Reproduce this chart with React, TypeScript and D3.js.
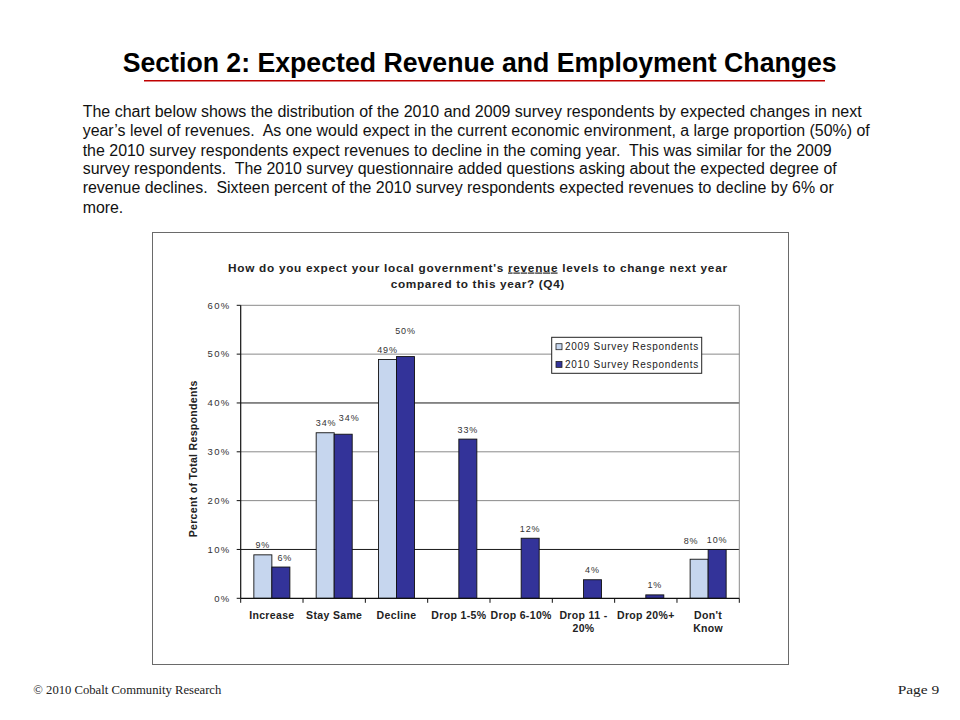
import React from "react";
import * as d3 from "d3";

const categories: string[][] = [
  ["Increase"],
  ["Stay Same"],
  ["Decline"],
  ["Drop 1-5%"],
  ["Drop 6-10%"],
  ["Drop 11 -", "20%"],
  ["Drop 20%+"],
  ["Don't", "Know"],
];
const seriesNames = ["2009 Survey Respondents", "2010 Survey Respondents"];
const values2009: (number | null)[] = [8.9, 33.9, 48.9, null, null, null, null, 8.0];
const values2010: (number | null)[] = [6.4, 33.6, 49.5, 32.6, 12.3, 3.8, 0.7, 10.0];
const labels2009: (string | null)[] = ["9%", "34%", "49%", null, null, null, null, "8%"];
const labels2010: (string | null)[] = ["6%", "34%", "50%", "33%", "12%", "4%", "1%", "10%"];
const yTicks = [0, 10, 20, 30, 40, 50, 60];

const headingText = "Section 2: Expected Revenue and Employment Changes";
const paragraphLines = [
  "The chart below shows the distribution of the 2010 and 2009 survey respondents by expected changes in next",
  "year\u2019s level of revenues.  As one would expect in the current economic environment, a large proportion (50%) of",
  "the 2010 survey respondents expect revenues to decline in the coming year.  This was similar for the 2009",
  "survey respondents.  The 2010 survey questionnaire added questions asking about the expected degree of",
  "revenue declines.  Sixteen percent of the 2010 survey respondents expected revenues to decline by 6% or",
  "more.",
];
const paragraphWidths = [779, 787, 749, 754, 751, 40.6];
const paragraphBaselines = [117.3, 136.3, 155.5, 174.3, 193.3, 213.3];
const chartTitle1a = "How do you expect your local government's ";
const chartTitle1b = "revenue";
const chartTitle1c = " levels to change next year";
const chartTitle2 = "compared to this year? (Q4)";
const yAxisTitle = "Percent of Total Respondents";
const footerLeft = "\u00A9 2010 Cobalt Community Research";
const footerRight = "Page 9";

const colors = ["#C6D6EE", "#333399"];
const chartFont = "'Liberation Sans', Arial, sans-serif";
const narrowFont = "'Liberation Sans Narrow', 'Arial Narrow', 'Liberation Sans', Arial, sans-serif";

export default function App() {
  const plotLeft = 240.7;
  const plotRight = 739.3;
  const plotTop = 305.3;
  const plotBottom = 598.3;

  const keys = categories.map((c) => c.join(" "));
  const x0 = d3.scaleBand<string>().domain(keys).range([plotLeft, plotRight]).paddingInner(0).paddingOuter(0);
  const x1 = d3.scaleBand<string>().domain(["2009", "2010"]).range([0, x0.bandwidth()]).paddingInner(0).paddingOuter(0.73);
  const y = d3.scaleLinear().domain([0, 60]).range([plotBottom, plotTop]);

  const series = [
    { key: "2009", values: values2009, labels: labels2009, color: colors[0] },
    { key: "2010", values: values2010, labels: labels2010, color: colors[1] },
  ];

  // data label placement with simple collision avoidance
  type Lab = { x: number; y: number; text: string };
  const dataLabels: Lab[] = [];
  keys.forEach((k, i) => {
    const a = values2009[i];
    const b = values2010[i];
    const la = labels2009[i];
    const lb = labels2010[i];
    const wA = la ? la.length * 6.2 : 0;
    const wB = lb ? lb.length * 6.2 : 0;
    const xa = (x0(k) as number) + (x1("2009") as number) + x1.bandwidth() / 2;
    const xb = (x0(k) as number) + (x1("2010") as number) + x1.bandwidth() / 2;
    let ya = a != null ? y(a) - 6.5 : 0;
    let yb = b != null ? y(b) - 6.5 : 0;
    let dxa = 0;
    let dxb = 0;
    if (a != null && b != null && la && lb) {
      const overlapX = xa + wA / 2 - (xb - wB / 2);
      const overlapY = Math.abs(ya - yb) < 10;
      if (overlapX > 0 && overlapY) {
        if (b > a) {
          yb = Math.min(ya, yb) - 16;
        } else {
          dxa = 1;
          dxb = 6;
          yb = ya - 5;
        }
      } else if (a < b) {
        dxa = -8;
        if (b - a < 2.2) ya = yb + 1;
      } else {
        dxb = 4;
      }
    }
    if (a != null && la) dataLabels.push({ x: xa + dxa, y: ya, text: la });
    if (b != null && lb) dataLabels.push({ x: xb + dxb, y: yb, text: lb });
  });

  const tickXs = keys.map((k) => x0(k) as number).concat([plotRight]);

  return (
    <svg
      width={960}
      height={720}
      viewBox="0 0 960 720"
      style={{ position: "absolute", left: 0, top: 0, background: "#fff" }}
    >
      <rect x={0} y={0} width={960} height={720} fill="#fff" />

      {/* Heading */}
      <text
        x={122.7}
        y={71.7}
        fontFamily={narrowFont}
        fontWeight="bold"
        fontSize={27.5}
        textLength={714}
        lengthAdjust="spacingAndGlyphs"
        fill="#000"
      >
        {headingText}
      </text>
      <line x1={144} x2={825} y1={80.7} y2={80.7} stroke="#C00000" strokeWidth={1.4} />

      {/* Paragraph */}
      {paragraphLines.map((line, i) => (
        <text
          key={i}
          x={82.7}
          y={paragraphBaselines[i]}
          fontFamily={narrowFont}
          fontSize={16}
          textLength={paragraphWidths[i]}
          lengthAdjust="spacingAndGlyphs"
          fill="#111"
          style={{ whiteSpace: "pre" }}
        >
          {line}
        </text>
      ))}

      {/* Chart box */}
      <rect x={152.5} y={232.5} width={636} height={432} fill="#fff" stroke="#6a6a6a" strokeWidth={1} />

      {/* Chart title */}
      <text
        x={228}
        y={271.5}
        fontFamily={chartFont}
        fontWeight="bold"
        fontSize={11.8}
        textLength={499}
        lengthAdjust="spacing"
        fill="#222"
        style={{ whiteSpace: "pre" }}
      >
        <tspan>{chartTitle1a}</tspan>
        <tspan style={{ textDecoration: "underline" }}>{chartTitle1b}</tspan>
        <tspan>{chartTitle1c}</tspan>
      </text>
      <text
        x={390.7}
        y={287.5}
        fontFamily={chartFont}
        fontWeight="bold"
        fontSize={11.8}
        textLength={173.6}
        lengthAdjust="spacing"
        fill="#222"
      >
        {chartTitle2}
      </text>

      {/* Gridlines */}
      {yTicks.slice(1).map((t) => (
        <line
          key={t}
          x1={plotLeft}
          x2={plotRight}
          y1={y(t)}
          y2={y(t)}
          stroke={t % 30 === 10 ? "#1a1a1a" : "#8a8a8a"}
          strokeWidth={1}
        />
      ))}
      <line x1={plotRight} x2={plotRight} y1={plotTop} y2={plotBottom} stroke="#8a8a8a" strokeWidth={1} />

      {/* Bars */}
      {series.map((s) =>
        keys.map((k, i) => {
          const v = s.values[i];
          if (v == null) return null;
          const bx = (x0(k) as number) + (x1(s.key) as number);
          return (
            <rect
              key={s.key + k}
              x={bx}
              y={y(v)}
              width={x1.bandwidth()}
              height={y(0) - y(v)}
              fill={s.color}
              stroke="#111"
              strokeWidth={0.9}
            />
          );
        })
      )}

      {/* Axes */}
      <line x1={plotLeft} x2={plotLeft} y1={plotTop} y2={plotBottom} stroke="#111" strokeWidth={1.2} />
      <line x1={plotLeft} x2={plotRight} y1={plotBottom} y2={plotBottom} stroke="#111" strokeWidth={1.2} />
      {yTicks.map((t) => (
        <g key={"yt" + t}>
          <line x1={plotLeft - 4} x2={plotLeft} y1={y(t)} y2={y(t)} stroke="#111" strokeWidth={1} />
          <text
            x={230.5}
            y={y(t) + 3.3}
            textAnchor="end"
            fontFamily={chartFont}
            fontSize={9.5}
            letterSpacing={1.3}
            fill="#333"
          >
            {t + "%"}
          </text>
        </g>
      ))}
      {tickXs.map((tx, i) => (
        <line key={"xt" + i} x1={tx} x2={tx} y1={plotBottom} y2={plotBottom + 4.5} stroke="#111" strokeWidth={1} />
      ))}
      {categories.map((c, i) => (
        <text
          key={"cat" + i}
          x={(x0(keys[i]) as number) + x0.bandwidth() / 2}
          y={619}
          textAnchor="middle"
          fontFamily={chartFont}
          fontWeight="bold"
          fontSize={10.5}
          letterSpacing={0.35}
          fill="#222"
        >
          {c.map((line, j) => (
            <tspan key={j} x={(x0(keys[i]) as number) + x0.bandwidth() / 2} dy={j === 0 ? 0 : 13}>
              {line}
            </tspan>
          ))}
        </text>
      ))}

      {/* Y axis title */}
      <text
        transform={`translate(196.5, 459) rotate(-90)`}
        textAnchor="middle"
        fontFamily={chartFont}
        fontWeight="bold"
        fontSize={10.5}
        textLength={156.6}
        lengthAdjust="spacing"
        fill="#222"
      >
        {yAxisTitle}
      </text>

      {/* Data labels */}
      {dataLabels.map((l, i) => (
        <text
          key={"dl" + i}
          x={l.x}
          y={l.y}
          textAnchor="middle"
          fontFamily={chartFont}
          fontSize={9}
          letterSpacing={0.9}
          fill="#333"
        >
          {l.text}
        </text>
      ))}

      {/* Legend */}
      <rect x={551.7} y={337.3} width={150} height={36} fill="#fff" stroke="#222" strokeWidth={1} />
      {seriesNames.map((n, i) => (
        <g key={"lg" + i}>
          <rect x={556} y={343.7 + i * 17.7} width={6} height={6} fill={colors[i]} stroke="#222" strokeWidth={0.8} />
          <text x={565} y={350.3 + i * 17.7} fontFamily={chartFont} fontSize={10} letterSpacing={0.7} fill="#222">
            {n}
          </text>
        </g>
      ))}

      {/* Footer */}
      <text
        x={33.3}
        y={693.5}
        fontFamily="'Liberation Serif', 'DejaVu Serif', serif"
        fontSize={11.5}
        textLength={188}
        lengthAdjust="spacingAndGlyphs"
        fill="#222"
      >
        {footerLeft}
      </text>
      <text
        x={897.7}
        y={693.5}
        fontFamily="'Liberation Serif', 'DejaVu Serif', serif"
        fontSize={11.5}
        textLength={41.6}
        lengthAdjust="spacingAndGlyphs"
        fill="#222"
      >
        {footerRight}
      </text>
    </svg>
  );
}
